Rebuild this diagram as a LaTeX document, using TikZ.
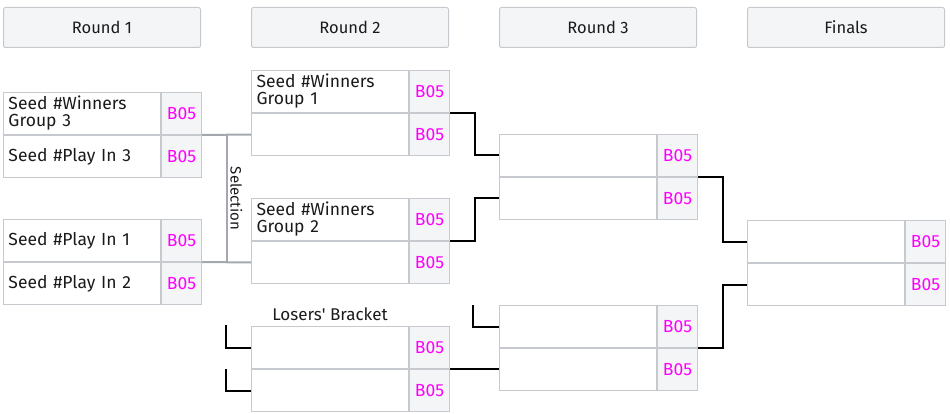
\documentclass[tikz,border=0pt]{standalone}
\usepackage{fontspec}
\setmainfont{Fira Sans}
\usepackage{tikz}
\usetikzlibrary{positioning}
\definecolor{cellgray}{HTML}{F4F5F7}
\definecolor{edgegray}{HTML}{C6CACE}
\definecolor{selgray}{HTML}{A3A8AE}
\definecolor{bofive}{HTML}{FF00FF}
\definecolor{ink}{HTML}{1A1A1A}
\tikzset{header/.style={rectangle, draw=edgegray, fill=cellgray, line width=1pt,
                        rounded corners=2pt, minimum width=197pt, minimum height=40pt,
                        anchor=north west, text=ink, font=\fontsize{16.5}{18}\selectfont},
         slot/.style={rectangle, draw=edgegray, line width=1pt, text width=147pt,
                      inner xsep=5pt, inner ysep=0pt, minimum height=42pt, align=left,
                      anchor=north west, text=ink, font=\fontsize{17.5}{17}\selectfont},
         score/.style={rectangle, draw=edgegray, fill=cellgray, line width=1pt,
                       minimum width=40pt, minimum height=42pt, inner sep=0pt,
                       anchor=north west, text=bofive, font=\fontsize{17.5}{17}\selectfont},
         win/.style={draw=black, line width=2pt},
         sel/.style={draw=selgray, line width=2pt}}

\begin{document}
\begin{tikzpicture}[x=1pt, y=-1pt]
  \useasboundingbox (0,0) rectangle (950,414);
  \node[header] (round1) at (3,7)   {Round 1};
  \node[header] (round2) at (251,7) {Round 2};
  \node[header] (round3) at (499,7) {Round 3};
  \node[header] (finals) at (747,7) {Finals};

  \node[slot]  (r1a)   at (3,92) {Seed \#Winners\\Group 3};
  \node[score] (r1a s) at (r1a.north east) {B05};
  \node[slot]  (r1b)   [below=0pt of r1a] {Seed \#Play In 3};
  \node[score] (r1b s) at (r1b.north east) {B05};
  \node[slot]  (r1c)   at (3,219) {Seed \#Play In 1};
  \node[score] (r1c s) at (r1c.north east) {B05};
  \node[slot]  (r1d)   [below=0pt of r1c] {Seed \#Play In 2};
  \node[score] (r1d s) at (r1d.north east) {B05};

  \node[slot]  (r2a)   at (251,70) {Seed \#Winners\\Group 1};
  \node[score] (r2a s) at (r2a.north east) {B05};
  \node[slot]  (r2b)   [below=0pt of r2a] {};
  \node[score] (r2b s) at (r2b.north east) {B05};
  \node[slot]  (r2c)   at (251,198) {Seed \#Winners\\Group 2};
  \node[score] (r2c s) at (r2c.north east) {B05};
  \node[slot]  (r2d)   [below=0pt of r2c] {};
  \node[score] (r2d s) at (r2d.north east) {B05};
  \node[slot]  (r2e)   at (251,326) {};
  \node[score] (r2e s) at (r2e.north east) {B05};
  \node[slot]  (r2f)   [below=0pt of r2e] {};
  \node[score] (r2f s) at (r2f.north east) {B05};
  \node[text=ink, font=\fontsize{17}{17}\selectfont] (losers)
       [above=2pt of r2e] {Losers\textquotesingle{} Bracket};

  \node[slot]  (r3a)   at (499,134) {};
  \node[score] (r3a s) at (r3a.north east) {B05};
  \node[slot]  (r3b)   [below=0pt of r3a] {};
  \node[score] (r3b s) at (r3b.north east) {B05};
  \node[slot]  (r3c)   at (499,305) {};
  \node[score] (r3c s) at (r3c.north east) {B05};
  \node[slot]  (r3d)   [below=0pt of r3c] {};
  \node[score] (r3d s) at (r3d.north east) {B05};

  \node[slot]  (fa)    at (747,220) {};
  \node[score] (fa s)  at (fa.north east) {B05};
  \node[slot]  (fb)    [below=0pt of fa] {};
  \node[score] (fb s)  at (fb.north east) {B05};

  \draw[sel] (r1a s.south east) -- (r2b.west) coordinate[pos=0.5] (sel top);
  \draw[sel] (r1c s.south east) -- (r2d.west) coordinate[pos=0.5] (sel bot);
  \draw[sel] (sel top) -- node[midway, anchor=south, rotate=-90, inner sep=3pt,
             text=ink, font=\fontsize{15}{16}\selectfont] (selection) {Selection} (sel bot);

  \draw[win] (r2a s.south east) -- ++(25,0) |- (r3a.west);
  \draw[win] (r2c s.south east) -- ++(25,0) |- (r3b.west);
  \draw[win] (r2e s.south east) -- (r2e s.south east -| r3d.west);
  \draw[win] (r3c.west) -- ++(-26,0) -- ++(0,-22);
  \draw[win] (r3a s.south east) -- ++(25,0) |- (fa.west);
  \draw[win] (r3c s.south east) -- ++(25,0) |- (fb.west);
  \draw[win] (r2e.west) -- ++(-25,0) -- ++(0,-23);
  \draw[win] (r2f.west) -- ++(-25,0) -- ++(0,-22);
\end{tikzpicture}
\end{document}
